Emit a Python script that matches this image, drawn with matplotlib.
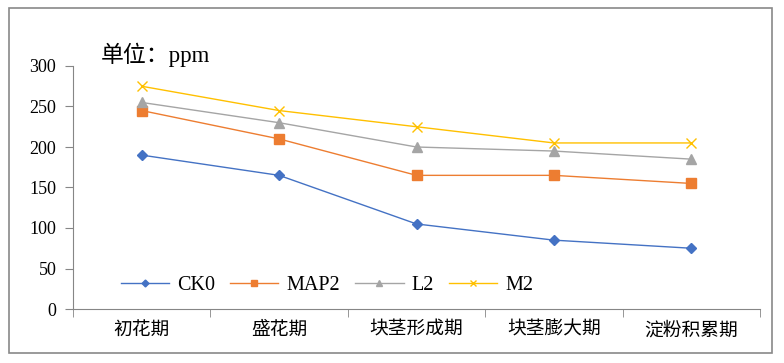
import matplotlib.pyplot as plt
from matplotlib.patches import Rectangle

# data
stages = ['初花期', '盛花期', '块茎形成期', '块茎膨大期', '淀粉积累期']
ck0 = [190, 165, 105, 85, 75]
map2 = [245, 210, 165, 165, 155]
l2 = [255, 230, 200, 195, 185]
m2 = [275, 245, 225, 205, 205]

fonts = ['Liberation Serif', 'Noto Sans CJK SC']
plt.rcParams['font.family'] = fonts

W, H = 784, 363
fig = plt.figure(figsize=(W / 100, H / 100), dpi=100)
ax = fig.add_axes([73 / W, 1 - 309 / H, (760 - 73) / W, (309 - 66) / H])

# outer chart frame
fig.patches.append(Rectangle((9 / W, 1 - 353 / H), (772 - 9) / W, (353 - 8) / H,
                             transform=fig.transFigure, fill=False,
                             edgecolor='#898989', linewidth=1.2))

x = range(len(stages))
ax.plot(x, ck0, color='#4472C4', marker='D', markersize=5, lw=1, label='CK0')
ax.plot(x, map2, color='#ED7D31', marker='s', markersize=7, lw=1, label='MAP2')
ax.plot(x, l2, color='#A5A5A5', marker='^', markersize=7, lw=1, label='L2')
ax.plot(x, m2, color='#FFC000', marker='x', markersize=7, lw=1, label='M2')

ax.set_xlim(-0.5, len(stages) - 0.5)
ax.set_ylim(0, 300)
ax.set_yticks(range(0, 301, 50))
ax.tick_params(axis='y', labelsize=13, length=6, color='#868686', pad=6)
ax.set_xticks(list(x))
ax.set_xticklabels(stages, fontsize=13.5)
ax.tick_params(axis='x', length=0, pad=9)
# category boundary ticks
ax.set_xticks([i - 0.5 for i in range(len(stages) + 1)], minor=True)
ax.tick_params(axis='x', which='minor', length=6, color='#868686', direction='out')

for side in ['top', 'right']:
    ax.spines[side].set_visible(False)
for side in ['left', 'bottom']:
    ax.spines[side].set_color('#868686')

ax.text(0.041, 0.995, '单位：ppm', transform=ax.transAxes, fontsize=16.5, va='bottom')

ax.legend(loc='lower left', bbox_to_anchor=(0.043, -0.018), ncol=4, frameon=False,
          fontsize=14.5, handlelength=2.4, columnspacing=0.75, handletextpad=0.4,
          markerscale=0.7)

fig.savefig('out.png', dpi=100)
